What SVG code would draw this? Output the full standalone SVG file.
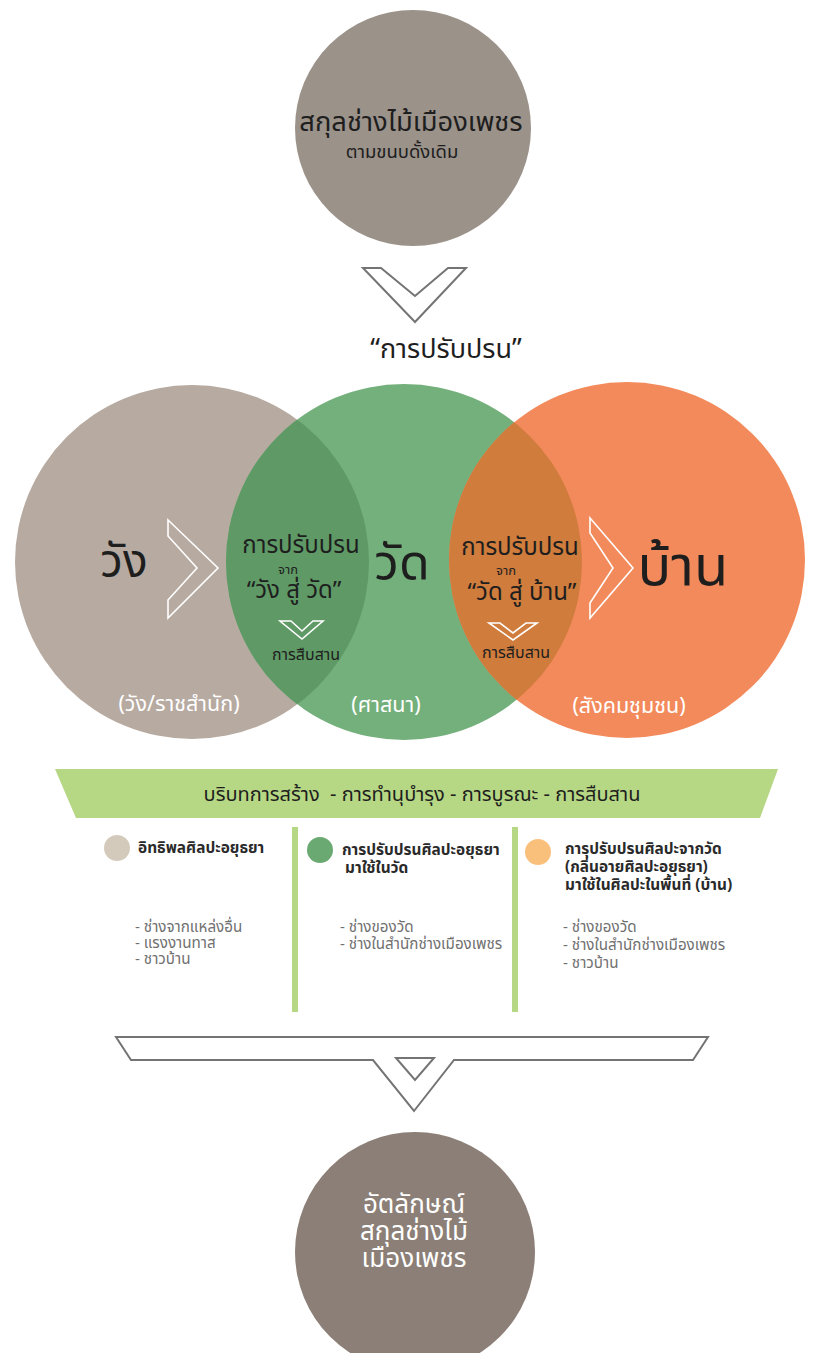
<svg xmlns="http://www.w3.org/2000/svg" width="819" height="1353" viewBox="0 0 819 1353">
<style>
text{font-family:"Noto Sans Thai","Noto Sans","DejaVu Sans",sans-serif;}
.c{text-anchor:middle;}
.dark{fill:#1e1e1e;}
.w{fill:#ffffff;}
.mid{font-size:24px;fill:#1e1e1e;}
.tiny{font-size:13px;fill:#1e1e1e;}
.sm{font-size:16px;fill:#1e1e1e;}
.lbl{font-size:21.5px;fill:#ffffff;}
.ttl{font-size:15.4px;font-weight:bold;fill:#2a2a2a;}
.li{font-size:15.2px;fill:#707070;}
.chev{fill:#ffffff;stroke:#747474;stroke-width:2;stroke-linejoin:miter;}
.wchev{fill:none;stroke:#ffffff;stroke-width:1.6;}
.bar{fill:#b6d784;}
</style>
<defs>
<clipPath id="clipGreen"><circle cx="404" cy="562" r="178"/></clipPath>
</defs>
<rect width="819" height="1353" fill="#ffffff"/>

<g id="node-top">
<circle cx="413" cy="128" r="118" fill="#9b928a"/>
<text class="c dark" x="411" y="131" font-size="27.3">สกุลช่างไม้เมืองเพชร</text>
<text class="c dark" x="402" y="158" font-size="18.5">ตามขนบดั้งเดิม</text>
</g>

<g id="title">
<text class="c dark" x="446" y="358" font-size="27">“การปรับปรน”</text>
</g>

<g id="node-wang">
<circle cx="192" cy="562" r="177" fill="#b7aaa1"/>
</g>
<g id="node-wat">
<circle cx="404" cy="562" r="178" fill="#74b07b"/>
</g>
<g id="node-baan">
<circle cx="627" cy="560" r="178" fill="#f38a5b"/>
</g>
<g id="overlaps" clip-path="url(#clipGreen)">
<circle cx="192" cy="562" r="177" fill="#5f9a66"/>
<circle cx="627" cy="560" r="178" fill="#cf7c3d"/>
</g>

<g id="label-wang">
<text class="c dark" x="124" y="577" font-size="46">วัง</text>
<text class="c lbl" x="179" y="711">(วัง/ราชสำนัก)</text>
</g>
<g id="label-wat">
<text class="c dark" x="402" y="580" font-size="50">วัด</text>
<text class="c lbl" x="386" y="712">(ศาสนา)</text>
</g>
<g id="label-baan">
<text class="c dark" x="683" y="585" font-size="56">บ้าน</text>
<text class="c lbl" x="629" y="713">(สังคมชุมชน)</text>
</g>
<g id="overlap-left">
<text class="c mid" x="301" y="553">การปรับปรน</text>
<text class="c tiny" x="288" y="574">จาก</text>
<text class="c mid" x="294" y="598">“วัง สู่ วัด”</text>
<text class="c sm" x="306" y="660">การสืบสาน</text>
</g>
<g id="overlap-right">
<text class="c mid" x="520" y="555">การปรับปรน</text>
<text class="c tiny" x="506" y="575">จาก</text>
<text class="c mid" x="522" y="600" font-size="25">“วัด สู่ บ้าน”</text>
<text class="c sm" x="516" y="658">การสืบสาน</text>
</g>

<g id="connectors">
<polygon class="chev" points="363,268 381,268 415,296 448,268 466,268 415,322"/>
<polygon class="wchev" points="168,520 218,568 168,618 168,600 197,568 168,536"/>
<polygon class="wchev" points="590,518 633,568 590,618 590,603 613,568 590,533"/>
<polygon class="wchev" points="280,621 291,621 302,631 313,621 323,621 302,639"/>
<polygon class="wchev" points="489,623 500,623 513,633 526,623 537,623 513,640"/>
<polygon class="chev" points="116,1037 708,1037 693,1060 454,1060 414,1111 373,1060 131,1060"/>
<polygon class="chev" points="396,1058 434,1058 415,1080"/>
</g>

<g id="banner">
<polygon class="bar" points="55,769 778,769 760,818 76,818"/>
<text class="c dark" x="422" y="801" font-size="20">บริบทการสร้าง&#160; - การทำนุบำรุง - การบูรณะ - การสืบสาน</text>
</g>

<g id="dividers">
<rect class="bar" x="292" y="827" width="6" height="185"/>
<rect class="bar" x="512" y="827" width="6" height="185"/>
</g>

<g id="col-1">
<circle cx="117" cy="848" r="13" fill="#d4cabc"/>
<text class="ttl" x="138" y="853">อิทธิพลศิลปะอยุธยา</text>
<text class="li" x="135" y="932">- ช่างจากแหล่งอื่น</text>
<text class="li" x="135" y="948">- แรงงานทาส</text>
<text class="li" x="135" y="964">- ชาวบ้าน</text>
</g>
<g id="col-2">
<circle cx="320" cy="850" r="13" fill="#6aaa72"/>
<text class="ttl" x="342" y="855">การปรับปรนศิลปะอยุธยา</text>
<text class="ttl" x="345" y="873">มาใช้ในวัด</text>
<text class="li" x="340" y="932">- ช่างของวัด</text>
<text class="li" x="340" y="949">- ช่างในสำนักช่างเมืองเพชร</text>
</g>
<g id="col-3">
<circle cx="538" cy="852" r="13" fill="#f9c07c"/>
<text class="ttl" x="565" y="854">การุปรับปรนศิลปะจากวัด</text>
<text class="ttl" x="565" y="872">(กลิ่นอายศิลปะอยุธยา)</text>
<text class="ttl" x="565" y="890">มาใช้ในศิลปะในพื้นที่ (บ้าน)</text>
<text class="li" x="563" y="932">- ช่างของวัด</text>
<text class="li" x="563" y="950">- ช่างในสำนักช่างเมืองเพชร</text>
<text class="li" x="563" y="968">- ชาวบ้าน</text>
</g>

<g id="node-bottom">
<circle cx="415" cy="1252" r="120" fill="#8c7f77"/>
<text class="c w" x="414" y="1213" font-size="26">อัตลักษณ์</text>
<text class="c w" x="414" y="1240" font-size="26">สกุลช่างไม้</text>
<text class="c w" x="414" y="1267" font-size="26">เมืองเพชร</text>
</g>
</svg>
